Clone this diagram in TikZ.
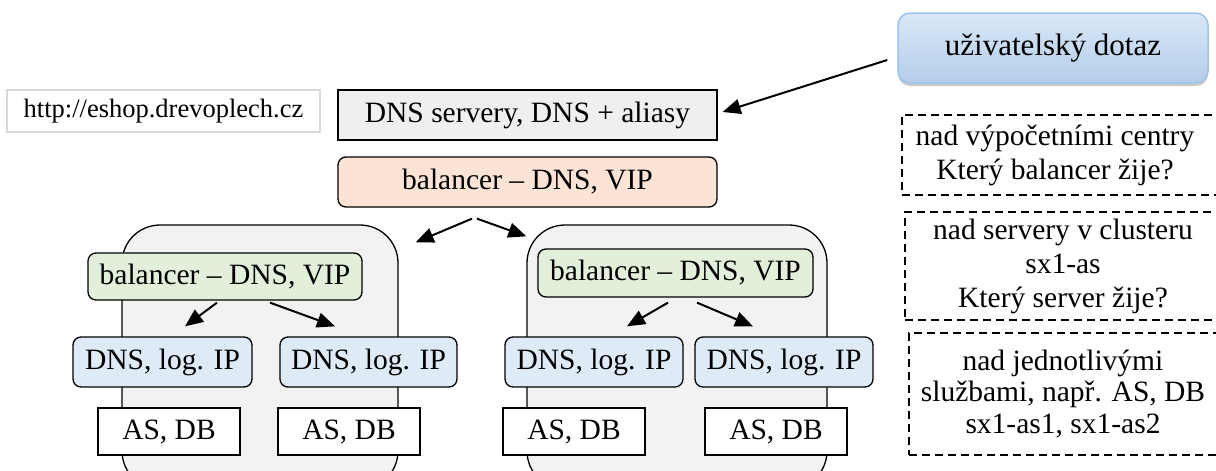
\documentclass[tikz,border=0pt]{standalone}
\usepackage{fontspec}
\setmainfont{Liberation Serif}
\usetikzlibrary{arrows.meta,shadows}
\definecolor{boxgray}{HTML}{EFEFEF}
\definecolor{clustergray}{HTML}{F2F2F2}
\definecolor{peach}{HTML}{FBE4D6}
\definecolor{lightgreen}{HTML}{E2EFDA}
\definecolor{lightblue}{HTML}{DEEBF7}
\definecolor{urlborder}{HTML}{D9D9D9}
\definecolor{usertop}{HTML}{D9E7F6}
\definecolor{userbottom}{HTML}{B4CDEA}
\definecolor{userborder}{HTML}{9DC3E6}
\begin{document}
\begin{tikzpicture}[x=1pt,y=-1pt,
  every node/.style={font=\fontsize{29.5}{34}\selectfont, inner sep=0pt, align=center},
  plainbox/.style={draw, line width=1.3pt, fill=white},
  graybox/.style={draw, line width=1.3pt, fill=boxgray},
  roundbox/.style={draw, line width=1.3pt, rounded corners=8pt},
  cluster/.style={draw, line width=1.3pt, fill=clustergray, rounded corners=38pt},
  notebox/.style={draw, line width=1.4pt, dash pattern=on 8pt off 5pt},
  arr/.style={line width=2pt, -{Triangle[length=18pt,width=15pt]}}]
\useasboundingbox (0,0) rectangle (1216,471);

% data centre clusters (drawn first, behind their contents)
\node[cluster, minimum width=276pt, minimum height=264pt] (c1) at (260,357) {};
\node[cluster, minimum width=300pt, minimum height=264pt] (c2) at (677,357) {};

% top row
\node[draw=urlborder, line width=1.5pt, fill=white, minimum width=313pt, minimum height=42pt,
      font=\fontsize{26.5}{30}\selectfont] (url) at (163.5,111) {http://eshop.drevoplech.cz};
\node[graybox, minimum width=379pt, minimum height=50pt] (dns) at (527.5,115) {DNS servery, DNS + aliasy};
\node[roundbox, fill=peach, minimum width=379pt, minimum height=50pt] (lbtop) at (527.5,182) {balancer -- DNS, VIP};

\node[draw=userborder, line width=1.5pt, rounded corners=12pt, top color=usertop, bottom color=userbottom,
      drop shadow={shadow xshift=0pt, shadow yshift=-3pt, fill=gray!60, opacity=0.7},
      minimum width=310pt, minimum height=70pt, font=\fontsize{31}{36}\selectfont] (user) at (1053,48) {uživatelský dotaz};

% left cluster
\node[roundbox, fill=lightgreen, minimum width=274pt, minimum height=47pt] (lb1) at (225,276.5) {balancer -- DNS, VIP};
\node[roundbox, fill=lightblue, minimum width=179pt, minimum height=50pt] (d11) at (162.5,362) {DNS, log. IP};
\node[roundbox, fill=lightblue, minimum width=177pt, minimum height=50pt] (d12) at (368.5,362) {DNS, log. IP};
\node[plainbox, minimum width=142pt, minimum height=47pt] (a11) at (169,431.5) {AS, DB};
\node[plainbox, minimum width=142pt, minimum height=47pt] (a12) at (349,431.5) {AS, DB};

% right cluster
\node[roundbox, fill=lightgreen, minimum width=275pt, minimum height=48pt] (lb2) at (675.5,273) {balancer -- DNS, VIP};
\node[roundbox, fill=lightblue, minimum width=178pt, minimum height=50pt] (d21) at (594,362) {DNS, log. IP};
\node[roundbox, fill=lightblue, minimum width=178pt, minimum height=50pt] (d22) at (784,362) {DNS, log. IP};
\node[plainbox, minimum width=142pt, minimum height=47pt] (a21) at (574,431.5) {AS, DB};
\node[plainbox, minimum width=142pt, minimum height=47pt] (a22) at (776,431.5) {AS, DB};

% notes on the right (their right sides run past the edge)
\node[notebox, minimum width=336pt, minimum height=80pt] (n1) at (1070,155) {};
\node (t1) at (1055,155) {nad výpočetními centry\\Který balancer žije?};
\node[notebox, minimum width=333pt, minimum height=108pt] (n2) at (1071.5,266) {};
\node (t2) at (1063,266) {nad servery v clusteru\\sx1-as\\Který server žije?};
\node[notebox, minimum width=329pt, minimum height=122pt] (n3) at (1073.5,394) {};
\node[font=\fontsize{29.5}{31.5}\selectfont] (t3) at (1063,394) {nad jednotlivými\\službami, např. AS, DB\\sx1-as1, sx1-as2};

% connectors
\draw[arr] ([xshift=-10pt,yshift=-12pt]user.west) -- ([xshift=5pt,yshift=3pt]dns.east);
\draw[arr] ([xshift=-55.5pt,yshift=-11pt]lbtop.south) -- ([xshift=17pt,yshift=-18pt]c1.north east);
\draw[arr] ([xshift=-50.5pt,yshift=-11pt]lbtop.south) -- ([yshift=-12pt]c2.north west);
\draw[arr] ([xshift=-8pt,yshift=-2pt]lb1.south) -- ([xshift=22.5pt,yshift=10pt]d11.north);
\draw[arr] ([xshift=45pt,yshift=-2pt]lb1.south) -- ([xshift=-33.5pt,yshift=10pt]d12.north);
\draw[arr] ([xshift=-7.5pt,yshift=-5pt]lb2.south) -- ([xshift=33pt,yshift=10pt]d21.north);
\draw[arr] ([xshift=21.5pt,yshift=-5pt]lb2.south) -- ([xshift=-31pt,yshift=10pt]d22.north);
\end{tikzpicture}
\end{document}
